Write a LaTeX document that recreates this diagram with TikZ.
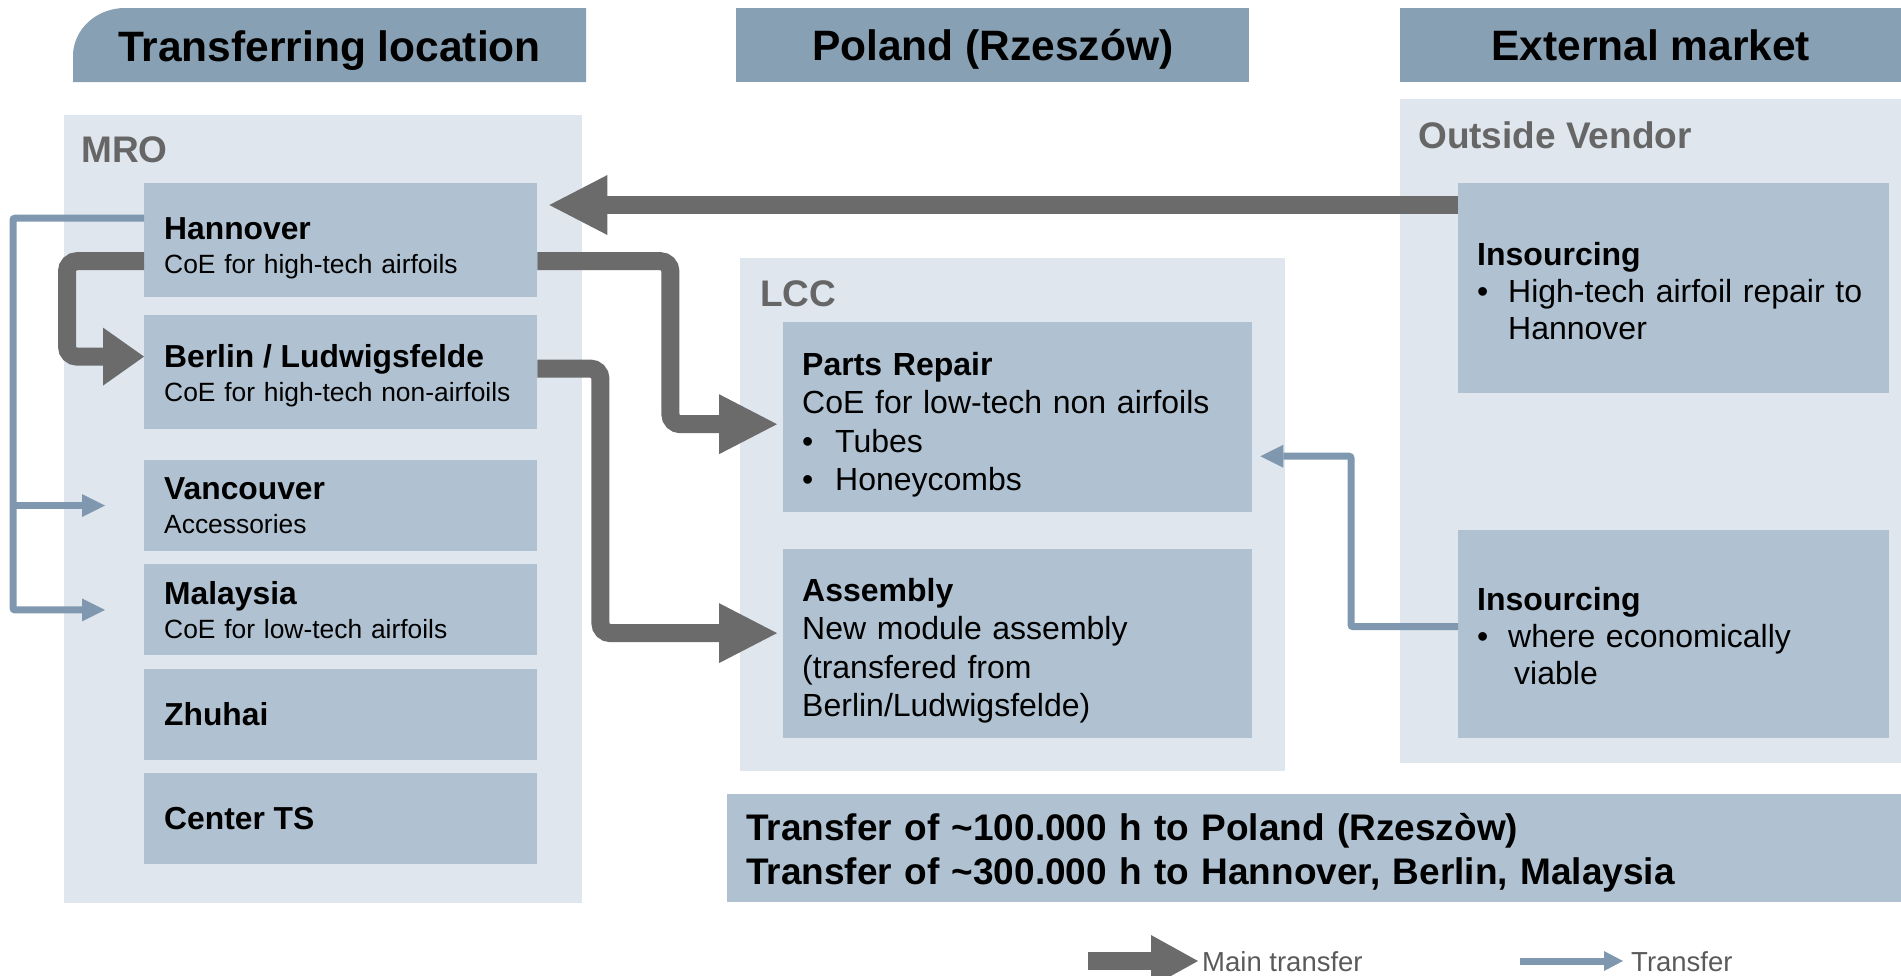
\documentclass[tikz,border=0pt]{standalone}
\usepackage{fontspec}
\setmainfont{Liberation Sans}
\usetikzlibrary{positioning,arrows.meta}

\definecolor{hdrblue}{RGB}{136,160,179}
\definecolor{panelgray}{RGB}{223,230,237}
\definecolor{boxblue}{RGB}{176,194,209}
\definecolor{arrowgray}{RGB}{107,107,107}
\definecolor{thinblue}{RGB}{127,152,176}
\definecolor{labelgray}{RGB}{102,102,102}
\definecolor{legendgray}{RGB}{90,90,90}

\tikzset{
  hdrtext/.style={inner sep=0pt, text height=30pt, text depth=0pt,
    font=\fontsize{42.5}{50}\selectfont\bfseries},
  header/.style={hdrtext, fill=hdrblue, anchor=north west, minimum height=74pt},
  panel/.style={fill=panelgray, inner sep=0pt, anchor=north west},
  paneltitle/.style={anchor=west, inner sep=0pt, text=labelgray, font=\fontsize{37}{44}\selectfont\bfseries},
  site/.style={fill=boxblue, anchor=north west, minimum width=393pt, text width=353pt,
    inner xsep=20pt, inner ysep=0pt, align=left, font=\fontsize{26.4}{34}\selectfont},
  unit/.style={fill=boxblue, anchor=north west, minimum width=469pt, text width=431pt,
    inner xsep=19pt, inner ysep=0pt, text height=38pt, align=left, font=\fontsize{32}{38.5}\selectfont},
  vendor/.style={fill=boxblue, anchor=north west, minimum width=431pt, text width=393pt,
    inner xsep=19pt, inner ysep=0pt, text height=28pt, align=left, font=\fontsize{32}{37}\selectfont},
  banner/.style={fill=boxblue, anchor=north west, minimum width=1174pt, minimum height=108pt,
    text width=1136pt, inner xsep=19pt, inner ysep=0pt, text height=36.5pt, align=left,
    font=\fontsize{37}{44}\selectfont\bfseries},
  legend/.style={anchor=west, inner sep=0pt, text=legendgray, font=\fontsize{27.5}{32}\selectfont},
  bigarrow/.style={draw=arrowgray, line width=18pt, rounded corners=10pt,
    -{Triangle[length=58pt,width=60pt,line width=0pt]}},
  thinarrow/.style={draw=thinblue, line width=7pt, rounded corners=2pt,
    -{Triangle[length=23pt,width=23pt,line width=0pt]}},
}

\newcommand{\bulletitem}[1]{\makebox[#1][l]{\textbullet}}

\begin{document}
\begin{tikzpicture}[x=1pt,y=-1pt]
  \useasboundingbox (0,0) rectangle (1901,975);

  % column headers
  \fill[hdrblue] (586,82) -- (73,82) -- (73,56)
    arc[start angle=180,end angle=90,x radius=52pt,y radius=48pt] -- (586,8) -- cycle;
  \node[hdrtext] (hdrloc) at (329.5,46) {Transferring location};
  \node[header, minimum width=513pt] (hdrpl) at (736,8) {Poland (Rzeszów)};
  \node[header, minimum width=501pt] (hdrext) at (1400,8) {External market};

  % background panels
  \node[panel, minimum width=518pt, minimum height=788pt] (mro) at (64,115) {};
  \node[panel, minimum width=545pt, minimum height=513pt] (lcc) at (740,258) {};
  \node[panel, minimum width=501pt, minimum height=664pt] (vend) at (1400,99) {};
  \node[paneltitle] (mrot) at ([shift={(17,35)}]mro.north west) {MRO};
  \node[paneltitle] (lcct) at ([shift={(20,36)}]lcc.north west) {LCC};
  \node[paneltitle] (vendt) at ([shift={(18,36)}]vend.north west) {Outside Vendor};

  % MRO sites
  \node[site, minimum height=114pt, text height=37.5pt] (hann) at (144,183)
    {{\bfseries\fontsize{31.8}{34}\selectfont Hannover}\\CoE for high-tech airfoils};
  \node[site, minimum height=114pt, text height=30.5pt, below=17pt of hann] (berl)
    {{\bfseries\fontsize{31.8}{34}\selectfont Berlin / Ludwigsfelde}\\CoE for high-tech non-airfoils};
  \node[site, minimum height=91pt, below=31pt of berl] (vanc)
    {{\bfseries\fontsize{31.8}{34}\selectfont Vancouver}\\Accessories};
  \node[site, minimum height=91pt, below=13pt of vanc] (mala)
    {{\bfseries\fontsize{31.8}{34}\selectfont Malaysia}\\CoE for low-tech airfoils};
  \node[site, minimum height=91pt, below=13pt of mala] (zhuh)
    {{\bfseries\fontsize{31.8}{34}\selectfont Zhuhai}};
  \node[site, minimum height=91pt, below=13pt of zhuh] (ctts)
    {{\bfseries\fontsize{31.8}{34}\selectfont Center TS}};

  % LCC units
  \node[unit, minimum height=190pt] (parts) at (783,322)
    {{\bfseries Parts Repair}\\CoE for low-tech non airfoils\\
     \bulletitem{33pt}Tubes\\\bulletitem{33pt}Honeycombs};
  \node[unit, minimum height=189pt, below=36pt of parts] (asm)
    {{\bfseries Assembly}\\New module assembly\\(transfered from\\Berlin/Ludwigsfelde)};

  % outside vendor
  \node[vendor, minimum height=210pt] (ins1) at (1458,183)
    {{\bfseries Insourcing}\\\bulletitem{31pt}High-tech airfoil repair to\\\hspace*{31pt}Hannover};
  \node[vendor, minimum height=208pt, below=136pt of ins1] (ins2)
    {{\bfseries Insourcing}\\\bulletitem{31pt}where economically\\\hspace*{37pt}viable};

  \node[banner] (summary) at (727,794)
    {Transfer of \textasciitilde100.000 h to Poland (Rzeszòw)\\
     Transfer of \textasciitilde300.000 h to Hannover, Berlin, Malaysia};

  % main transfers
  \draw[bigarrow] ([yshift=-22pt]ins1.north west) -- ([xshift=12pt,yshift=-22pt]hann.north east);
  \draw[bigarrow] ([yshift=-21pt]hann.east) -- ++(133,0) |- ([xshift=-6pt,yshift=-7pt]parts.west);
  \draw[bigarrow] ([yshift=3pt]berl.east) -- ++(63,0) |- ([xshift=-6pt,yshift=10pt]asm.west);
  \draw[bigarrow, -{Triangle[length=41pt,width=58pt,line width=0pt]}]
    ([yshift=-21pt]hann.west) -- ++(-77,0) |- ([yshift=15pt]berl.west);

  % transfers
  \draw[thinarrow] ([yshift=22pt]hann.west) -- ++(-131,0) |- ([xshift=-39pt]mala.west);
  \draw[thinarrow] ([xshift=-131pt]vanc.west) -- ([xshift=-39pt]vanc.west);
  \draw[thinarrow] ([yshift=7pt]ins2.west) -- ++(-107,0) |- ([xshift=8pt,yshift=-39pt]parts.east);

  % legend
  \coordinate (lgmainstart) at (1088,961);
  \node[legend] (lgmain) at (1202,962) {Main transfer};
  \draw[bigarrow, -{Triangle[length=47pt,width=52pt,line width=0pt]}]
    (lgmainstart) -- ([xshift=-4pt,yshift=1pt]lgmain.west);
  \coordinate (lgthinstart) at (1520,961);
  \node[legend] (lgthin) at (1631,962) {Transfer};
  \draw[thinarrow, -{Triangle[length=19pt,width=20pt,line width=0pt]}]
    (lgthinstart) -- ([xshift=-8pt,yshift=1pt]lgthin.west);
\end{tikzpicture}
\end{document}
